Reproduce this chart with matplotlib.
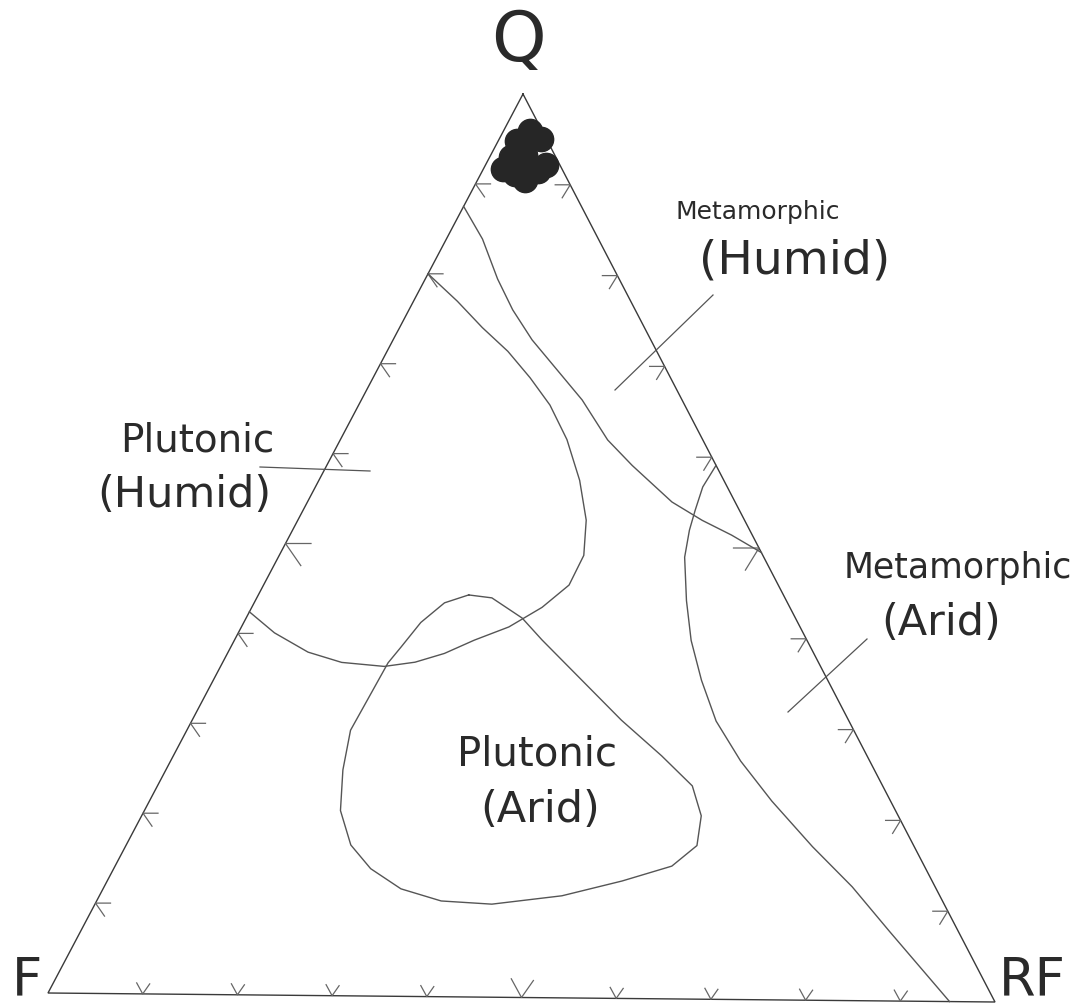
import matplotlib
matplotlib.use("Agg")
import matplotlib.pyplot as plt
import numpy as np

# ---------------- data (ternary compositions in percent; F = 100 - Q - RF) ----------------
sample_Q = [95.9, 94.8, 95.0, 93.2, 93.0, 91.7, 92.2, 91.5, 90.5, 91.1]
sample_RF = [2.8, 2.0, 4.4, 3.6, 2.2, 2.0, 6.3, 5.9, 5.0, 3.6]

meta_humid_Q = [87.5, 83.9, 79.5, 76.1, 72.8, 69.5, 66.2, 61.8, 59.0, 55.0, 53.0, 51.4, 49.5]
meta_humid_RF = [0.0, 3.8, 7.6, 10.9, 14.6, 18.9, 23.2, 28.1, 32.1, 38.3, 42.5, 46.4, 50.5]

plut_humid_Q = [80.0, 77.0, 74.1, 71.5, 68.6, 65.6, 61.8, 57.3, 52.9, 49.0, 45.7, 43.2, 41.0,
                39.5, 38.0, 37.0, 36.5, 36.9, 38.0, 40.1, 42.4]
plut_humid_RF = [0.0, 4.6, 8.7, 12.7, 16.5, 20.1, 23.8, 27.4, 30.3, 32.0, 32.1, 30.5, 28.1,
                 25.2, 22.8, 20.2, 17.2, 12.5, 8.4, 3.8, 0.0]

plut_arid_Q = [44.5, 44.2, 42.0, 39.6, 35.2, 30.8, 26.9, 23.6, 20.3, 17.0, 14.7, 13.0, 11.3,
               10.3, 10.6, 11.9, 14.1, 16.7, 20.5, 25.0, 29.4, 33.1, 36.9, 38.7, 41.4, 43.6, 44.5]
plut_arid_RF = [22.1, 24.7, 29.0, 32.3, 38.7, 45.1, 51.3, 56.2, 58.8, 60.0, 58.5, 54.1, 48.6,
                41.7, 36.2, 31.3, 27.0, 23.6, 20.6, 18.6, 17.2, 17.3, 17.4, 17.9, 18.6, 20.0, 22.1]

meta_arid_Q = [59.1, 56.7, 54.1, 51.9, 48.9, 44.1, 39.7, 35.3, 30.8, 26.4, 22.0, 17.0, 12.6, 7.7, 0.0]
meta_arid_RF = [40.9, 40.7, 41.2, 41.7, 42.7, 45.3, 48.0, 51.3, 55.1, 59.9, 65.4, 72.2, 78.6, 85.0, 95.2]

tick_values = [10, 20, 30, 40, 50, 60, 70, 80, 90]
apex_labels = ["Q", "F", "RF"]

# ---------------- layout (pixel frame of the drawing) ----------------
W, H = 1089, 1008
Q_PX = np.array([523.0, 94.0])
F_PX = np.array([48.0, 993.0])
RF_PX = np.array([995.0, 1002.0])


def tern(q, rf):
    q = np.asarray(q, float) / 100.0
    r = np.asarray(rf, float) / 100.0
    x = F_PX[0] + q * (Q_PX[0] - F_PX[0]) + r * (RF_PX[0] - F_PX[0])
    y = F_PX[1] + q * (Q_PX[1] - F_PX[1]) + r * (RF_PX[1] - F_PX[1])
    return x, y


fig = plt.figure(figsize=(W / 100, H / 100), dpi=100)
ax = fig.add_axes([0, 0, 1, 1])
ax.set_xlim(0, W)
ax.set_ylim(H, 0)
ax.axis("off")

edge_col = "#3a3a3a"
curve_col = "#555555"
tick_col = "#666666"

# triangle frame
tx, ty = tern([100, 0, 0, 100], [0, 0, 100, 0])
ax.plot(tx, ty, color=edge_col, lw=1.0, solid_joinstyle="miter")

# ticks (chevrons)
for v in tick_values:
    s = 1.7 if v == 50 else 1.0
    # left edge (F-Q), pointing left
    x, y = tern([v], [0])
    ax.plot([x[0] + 15 * s, x[0], x[0] + 9 * s], [y[0], y[0], y[0] + 13 * s], color=tick_col, lw=0.9)
    # right edge (RF-Q), pointing right
    x, y = tern([v], [100 - v])
    ax.plot([x[0] - 15 * s, x[0], x[0] - 8 * s], [y[0], y[0], y[0] + 13 * s], color=tick_col, lw=0.9)
    # bottom edge (F-RF), pointing down
    x, y = tern([0], [v])
    ax.plot([x[0] - 6 * s, x[0], x[0] + 7 * s], [y[0] - 11 * s, y[0], y[0] - 10 * s], color=tick_col, lw=0.9)

# field boundaries
for qs, rs in [(meta_humid_Q, meta_humid_RF), (plut_humid_Q, plut_humid_RF),
               (plut_arid_Q, plut_arid_RF), (meta_arid_Q, meta_arid_RF)]:
    x, y = tern(qs, rs)
    ax.plot(x, y, color=curve_col, lw=1.0)

# samples
sx, sy = tern(sample_Q, sample_RF)
ax.plot(sx, sy, "o", ms=17.5, color="#262626", mec="#262626", zorder=5)

# apex labels
font = "DejaVu Sans"
tc = "#2a2a2a"
ax.text(518, 61, apex_labels[0], fontsize=50, ha="center", va="baseline", color=tc, family=font)
ax.text(12, 1006, apex_labels[1], fontsize=38, ha="left", va="bottom", color=tc, family=font)
ax.text(999, 1006, apex_labels[2], fontsize=38, ha="left", va="bottom", color=tc, family=font)

# field labels
ax.text(758, 219, "Metamorphic", fontsize=18, ha="center", va="baseline", color=tc, family=font)
ax.text(795, 273, "(Humid)", fontsize=34, ha="center", va="baseline", color=tc, family=font)
ax.text(197, 452, "Plutonic", fontsize=28, ha="center", va="baseline", color=tc, family=font)
ax.text(184, 507, "(Humid)", fontsize=31, ha="center", va="baseline", color=tc, family=font)
ax.text(958, 578, "Metamorphic", fontsize=25, ha="center", va="baseline", color=tc, family=font)
ax.text(941, 635, "(Arid)", fontsize=31, ha="center", va="baseline", color=tc, family=font)
ax.text(537, 765, "Plutonic", fontsize=29, ha="center", va="baseline", color=tc, family=font)
ax.text(540, 822, "(Arid)", fontsize=31, ha="center", va="baseline", color=tc, family=font)

# leader lines
ax.plot([713, 615], [295, 390], color=curve_col, lw=0.9)
ax.plot([260, 370], [467, 471], color=curve_col, lw=0.9)
ax.plot([867, 788], [639, 712], color=curve_col, lw=0.9)

fig.savefig("out.png", dpi=100, facecolor="white")
